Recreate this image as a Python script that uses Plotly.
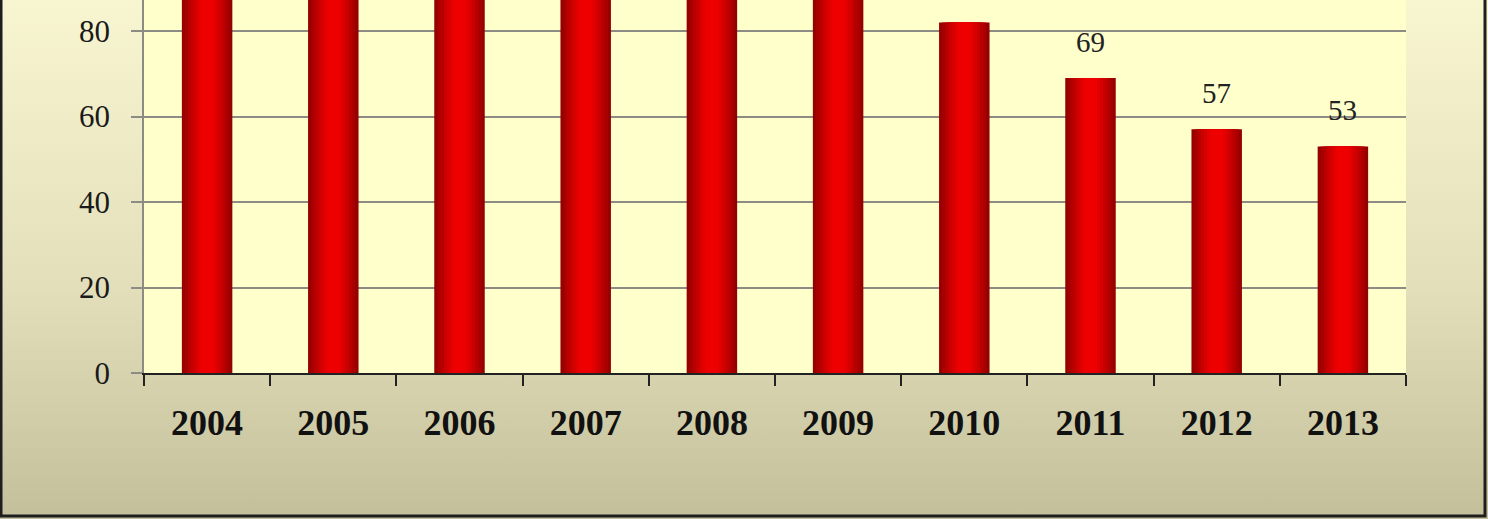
import base64
import plotly.graph_objects as go

years = ["2004", "2005", "2006", "2007", "2008", "2009", "2010", "2011", "2012", "2013"]
values = [96, 98, 100, 99, 97, 92, 82, 69, 57, 53]
y_ticks = [0, 20, 40, 60, 80]

# layered bars to imitate the cylinder-like horizontal gradient
layer_widths = [0.40, 0.35, 0.30, 0.25, 0.20, 0.15, 0.10]
layer_colors = ["#960000", "#A80000", "#B80000", "#C80000", "#D60000", "#E40000", "#EE0000"]

W, H = 1488, 519
L, R, T, B = 144, 82, 0, 146
pw, ph = W - L - R, H - T - B

svg = ('<svg xmlns="http://www.w3.org/2000/svg" width="10" height="100" preserveAspectRatio="none">'
       '<defs><linearGradient id="g" x1="0" y1="0" x2="0" y2="1">'
       '<stop offset="0" stop-color="#F8F6D0"/><stop offset="0.55" stop-color="#E2DFBA"/>'
       '<stop offset="1" stop-color="#C3BF9B"/></linearGradient></defs>'
       '<rect width="10" height="100" fill="url(#g)"/></svg>')
src = "data:image/svg+xml;base64," + base64.b64encode(svg.encode()).decode()

fig = go.Figure()
for w, c in zip(layer_widths, layer_colors):
    fig.add_trace(go.Bar(
        x=years, y=values, width=w, marker=dict(color=c, line=dict(width=0)),
        hoverinfo="skip", showlegend=False,
    ))

annotations = [
    dict(x=i, y=v, xref="x", yref="y", text=str(v), showarrow=False,
         yanchor="bottom", yshift=18,
         font=dict(family="Liberation Serif", size=29, color="#222222"))
    for i, v in enumerate(values)
]

fig.update_layout(
    width=W, height=H, barmode="overlay",
    margin=dict(l=L, r=R, t=T, b=B),
    paper_bgcolor="#E2DFBA", plot_bgcolor="rgba(0,0,0,0)",
    font=dict(family="Liberation Serif", color="#1a1a1a"),
    annotations=annotations,
    images=[dict(source=src, xref="paper", yref="paper",
                 x=-L / pw, y=1 + T / ph, sizex=W / pw, sizey=H / ph,
                 xanchor="left", yanchor="top", sizing="stretch", layer="below")],
    shapes=[
        dict(type="rect", xref="paper", yref="paper", x0=0, x1=1, y0=0, y1=1,
             fillcolor="#FFFFCC", line=dict(width=0), layer="below"),
        dict(type="rect", xref="paper", yref="paper",
             x0=(1 - L) / pw, x1=(W - 3 - L) / pw,
             y0=(ph - (H - 3)) / ph, y1=(ph + 20) / ph,
             line=dict(color="#1e1e1e", width=3), fillcolor="rgba(0,0,0,0)", layer="above"),
    ],
)
fig.update_xaxes(
    type="category", categoryorder="array", categoryarray=years,
    range=[-0.5, len(years) - 0.5], autorange=False,
    showline=True, linecolor="#222222", linewidth=1.5,
    ticks="outside", ticklen=11, tickcolor="#222222", tickwidth=1.5,
    tickson="boundaries", showgrid=False,
    tickfont=dict(family="Liberation Serif", size=36, color="#111111", weight="bold"),
    ticklabelstandoff=17,
)
fig.update_yaxes(
    range=[0, 87.25], tickvals=y_ticks, showline=True, linecolor="#8C8C84", linewidth=1.5,
    ticks="outside", ticklen=11, tickcolor="#8C8C84", tickwidth=1.5,
    showgrid=True, gridcolor="#8C8C84", gridwidth=1.5, zeroline=False,
    tickfont=dict(family="Liberation Serif", size=31, color="#1a1a1a"),
    ticklabelstandoff=15,
)
fig.write_html("out.html", config={"displayModeBar": False},
               post_script="document.body.style.margin='0';document.body.style.overflow='hidden';")
